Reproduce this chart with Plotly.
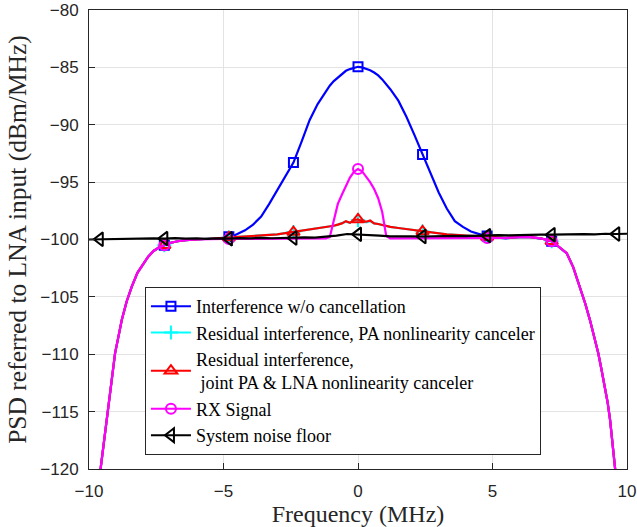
import plotly.graph_objects as go

# Shared roll-off at the band edges (all shaped spectra share it)
EDGE_LEFT_MHZ = [-10.0, -9.8, -9.57, -9.45, -9.34, -9.2, -9.03, -8.9, -8.78, -8.6,
                 -8.41, -8.2, -7.98, -7.8, -7.6, -7.4, -7.2, -7.0, -6.7, -6.4, -6.0]
EDGE_LEFT_DBM = [-129.5, -124.5, -120.0, -117.8, -115.7, -112.9, -109.9, -108.4, -107.0, -105.4,
                 -104.1, -102.9, -102.1, -101.5, -101.0, -100.7, -100.5, -100.3, -100.15, -100.05, -100.0]
EDGE_RIGHT_MHZ = [6.0, 6.4, 6.8, 7.0, 7.2, 7.4, 7.6, 7.76, 8.0, 8.25,
                  8.45, 8.62, 8.8, 8.93, 9.05, 9.18, 9.28, 9.37, 9.55, 9.8, 10.0]
EDGE_RIGHT_DBM = [-99.8, -99.8, -99.9, -100.0, -100.15, -100.5, -100.9, -101.2, -102.4, -104.1,
                  -105.6, -107.0, -108.6, -109.9, -111.3, -112.8, -114.2, -115.7, -120.0, -125.5, -130.0]

# In-band frequency grid (MHz)
MID_MHZ = [-5.5, -5.0, -4.6, -4.2, -3.9, -3.6, -3.3, -3.0, -2.7, -2.4, -2.1, -1.8, -1.5, -1.2,
           -1.05, -0.9, -0.75, -0.6, -0.45, -0.3, -0.15,
           0.0,
           0.15, 0.3, 0.45, 0.6, 0.75, 0.9, 1.05,
           1.2, 1.5, 1.8, 2.1, 2.4, 2.7, 3.0, 3.3, 3.6, 3.9, 4.2, 4.6, 5.0, 5.5]

# Interference without cancellation
BLUE_MID_DBM = [-99.95, -99.85, -99.65, -99.2, -98.7, -98.0, -96.9, -95.7, -94.5, -93.3, -91.5, -89.6, -88.2, -87.1,
                -86.6, -86.2, -85.9, -85.55, -85.3, -85.15, -85.03,
                -84.95,
                -85.0, -85.1, -85.25, -85.45, -85.7, -86.05, -86.45,
                -86.9, -87.9, -89.3, -90.9, -92.6, -94.3, -95.9, -97.3, -98.4, -98.9, -99.3, -99.6, -99.8, -99.9]

# Residual interference, PA nonlinearity canceler
CYAN_MID_DBM = [-99.9, -99.85, -99.8, -99.75, -99.7, -99.65, -99.6, -99.55, -99.45, -99.35, -99.25, -99.15, -99.05, -98.95,
                -98.85, -98.8, -98.7, -98.6, -98.45, -98.55, -98.35,
                -98.3,
                -98.4, -98.5, -98.4, -98.6, -98.65, -98.75, -98.85,
                -98.9, -99.0, -99.1, -99.2, -99.3, -99.4, -99.5, -99.55, -99.6, -99.65, -99.7, -99.75, -99.8, -99.85]

# Residual interference, joint PA & LNA nonlinearity canceler
RED_MID_DBM = [-99.9, -99.85, -99.8, -99.75, -99.7, -99.65, -99.6, -99.55, -99.45, -99.35, -99.25, -99.15, -99.05, -98.95,
               -98.85, -98.8, -98.7, -98.6, -98.4, -98.55, -98.3,
               -98.25,
               -98.4, -98.45, -98.35, -98.6, -98.65, -98.75, -98.85,
               -98.9, -99.0, -99.1, -99.2, -99.3, -99.4, -99.5, -99.55, -99.6, -99.65, -99.7, -99.75, -99.8, -99.85]

# RX signal
MAGENTA_MID_DBM = [-99.95, -99.95, -99.95, -99.95, -99.95, -99.95, -99.95, -99.95, -99.95, -99.95, -99.95, -99.95, -99.95, -99.9,
                   -99.8, -98.4, -96.9, -96.1, -95.3, -94.6, -94.1,
                   -93.85,
                   -94.05, -94.5, -95.0, -95.6, -96.4, -97.6, -99.7,
                   -99.9, -99.9, -99.9, -99.9, -99.9, -99.9, -99.9, -99.9, -99.9, -99.9, -99.9, -99.9, -99.85, -99.85]

# System noise floor
NOISE_MHZ = [-10.0, -9.6, -9.2, -8.8, -8.4, -8.0, -7.6, -7.2, -6.8, -6.4, -6.0, -5.6, -5.2,
             -4.8, -4.4, -4.0, -3.6, -3.2, -2.8, -2.4, -2.0, -1.6, -1.2, -0.8, -0.4,
             0.0, 0.4, 0.8, 1.2, 1.6, 2.0, 2.4, 2.8, 3.2, 3.6, 4.0, 4.4, 4.8,
             5.2, 5.6, 6.0, 6.4, 6.8, 7.2, 7.6, 8.0, 8.4, 8.8, 9.2, 9.6, 10.0]
NOISE_DBM = [-100.0, -99.98, -99.95, -99.97, -99.92, -99.95, -99.9, -99.92, -99.88, -99.93, -99.9, -99.94, -99.9,
             -99.93, -99.88, -99.9, -99.86, -99.89, -99.85, -99.87, -99.82, -99.84, -99.78, -99.66, -99.52,
             -99.55, -99.58, -99.66, -99.72, -99.75, -99.72, -99.74, -99.7, -99.72, -99.68, -99.7, -99.66, -99.66,
             -99.62, -99.64, -99.6, -99.62, -99.57, -99.58, -99.55, -99.57, -99.53, -99.55, -99.5, -99.52, -99.5]

# Marker locations (MHz) for each curve
BLUE_MARK_MHZ = [-7.2, -4.8, -2.4, 0.0, 2.4, 4.8, 7.2]
CYAN_MARK_MHZ = [-7.2, -4.8, -2.4, 0.0, 2.4, 4.8, 7.2]
RED_MARK_MHZ = [-7.2, -4.8, -2.4, 0.0, 2.4, 4.8, 7.2]
MAGENTA_MARK_MHZ = [-7.2, -4.8, 0.0, 4.8, 7.2]
NOISE_MARK_MHZ = [-9.6, -7.2, -4.8, -2.4, 0.0, 2.4, 4.8, 7.2, 9.6]

LEGEND_NAMES = [
    "Interference w/o cancellation",
    "Residual interference, PA nonlinearity canceler",
    "Residual interference,<br> joint PA & LNA nonlinearity canceler",
    "RX Signal",
    "System noise floor",
]

SERIF = "Liberation Serif, Times New Roman, serif"
SANS = "Liberation Sans, Arial, sans-serif"


def full_curve(mid_dbm):
    x = EDGE_LEFT_MHZ + MID_MHZ + EDGE_RIGHT_MHZ
    y = EDGE_LEFT_DBM + mid_dbm + EDGE_RIGHT_DBM
    return x, y


def sample_at(xs, ys, targets):
    out = []
    for t in targets:
        for i in range(len(xs) - 1):
            if xs[i] <= t <= xs[i + 1]:
                w = (t - xs[i]) / (xs[i + 1] - xs[i]) if xs[i + 1] != xs[i] else 0
                out.append(ys[i] + w * (ys[i + 1] - ys[i]))
                break
    return out


series = [
    ("#0000ff", BLUE_MID_DBM, BLUE_MARK_MHZ, dict(symbol="square-open", size=9)),
    ("#00ffff", CYAN_MID_DBM, CYAN_MARK_MHZ, dict(symbol="cross-thin-open", size=10)),
    ("#ff0000", RED_MID_DBM, RED_MARK_MHZ, dict(symbol="triangle-up-open", size=11)),
    ("#ff00ff", MAGENTA_MID_DBM, MAGENTA_MARK_MHZ, dict(symbol="circle-open", size=10)),
]

fig = go.Figure()

# legend entries (line + marker)
for (color, _, _, mk), name in zip(series, LEGEND_NAMES[:4]):
    fig.add_trace(go.Scatter(
        x=[None], y=[None], mode="lines+markers", name=name, legendgroup=name,
        line=dict(color=color, width=2),
        marker=dict(symbol=mk["symbol"], size=mk["size"], color=color,
                    line=dict(color=color, width=2)),
    ))
fig.add_trace(go.Scatter(
    x=[None], y=[None], mode="lines+markers", name=LEGEND_NAMES[4], legendgroup=LEGEND_NAMES[4],
    line=dict(color="#000000", width=2),
    marker=dict(symbol="triangle-left-open", size=12, color="#000000",
                line=dict(color="#000000", width=2)),
))

# shaped spectra
for color, mid, marks, mk in series:
    x, y = full_curve(mid)
    fig.add_trace(go.Scatter(x=x, y=y, mode="lines", showlegend=False,
                             line=dict(color=color, width=2.2), hoverinfo="skip"))
    fig.add_trace(go.Scatter(x=marks, y=sample_at(x, y, marks), mode="markers", showlegend=False,
                             marker=dict(symbol=mk["symbol"], size=mk["size"], color=color,
                                         line=dict(color=color, width=2)),
                             hoverinfo="skip"))

# noise floor
fig.add_trace(go.Scatter(x=NOISE_MHZ, y=NOISE_DBM, mode="lines", showlegend=False,
                         line=dict(color="#000000", width=2.2), hoverinfo="skip"))
fig.add_trace(go.Scatter(x=NOISE_MARK_MHZ, y=sample_at(NOISE_MHZ, NOISE_DBM, NOISE_MARK_MHZ),
                         mode="markers", showlegend=False,
                         marker=dict(symbol="triangle-left-open", size=12, color="#000000",
                                     line=dict(color="#000000", width=2)),
                         hoverinfo="skip"))

axis_common = dict(
    showline=True, mirror=True, linecolor="#262626", linewidth=1,
    ticks="inside", ticklen=6, tickcolor="#262626", tickwidth=1,
    showgrid=True, gridcolor="#e3e3e3", gridwidth=1, zeroline=False,
    automargin=False,
    tickfont=dict(family=SANS, size=17, color="#262626"),
)

fig.update_xaxes(range=[-10, 10], tick0=-10, dtick=5, ticklabelstandoff=7,
                 title=dict(text="Frequency (MHz)", standoff=7,
                            font=dict(family=SERIF, size=24, color="#262626")),
                 **axis_common)
fig.update_yaxes(range=[-120, -80], tick0=-120, dtick=5, ticklabelstandoff=6,
                 title=dict(text="PSD referred to LNA input (dBm/MHz)", standoff=6,
                            font=dict(family=SERIF, size=25.5, color="#262626")),
                 **axis_common)

fig.update_layout(
    width=637, height=527,
    margin=dict(l=89, r=10, t=10, b=58, autoexpand=False),
    paper_bgcolor="white", plot_bgcolor="white",
    showlegend=True,
    legend=dict(
        x=0.104, y=0.3965, xanchor="left", yanchor="top",
        bgcolor="white", bordercolor="#262626", borderwidth=1,
        font=dict(family=SERIF, size=18, color="#000000"),
        tracegroupgap=0, itemwidth=40,
    ),
)

fig.write_html("out.html")
